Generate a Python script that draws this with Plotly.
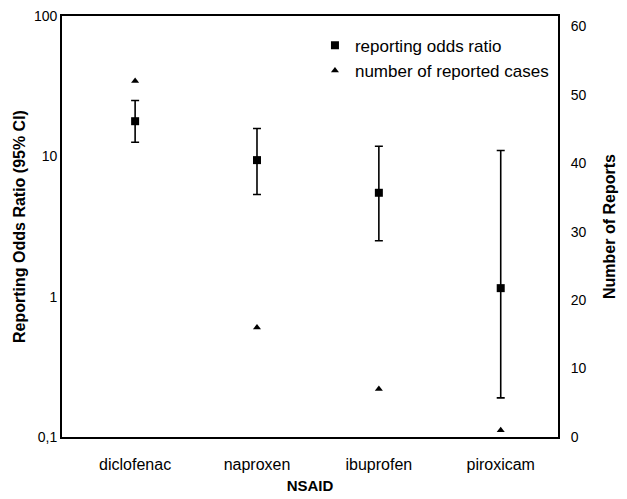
import plotly.graph_objects as go

nsaids = ["diclofenac", "naproxen", "ibuprofen", "piroxicam"]
ror = [17.8, 9.4, 5.5, 1.15]
ror_upper = [25.0, 15.8, 11.8, 11.0]
ror_lower = [12.6, 5.35, 2.5, 0.19]
reports = [52, 16, 7, 1]

left_ticks = [0.1, 1, 10, 100]
left_ticktext = ["0,1", "1", "10", "100"]
right_ticks = [0, 10, 20, 30, 40, 50, 60]

err_plus = [u - r for u, r in zip(ror_upper, ror)]
err_minus = [r - l for r, l in zip(ror, ror_lower)]

FAM = "Liberation Sans, Arial, Helvetica, sans-serif"
font = dict(family=FAM, size=14, color="black")

fig = go.Figure()
fig.add_trace(go.Scatter(
    x=nsaids, y=ror, mode="markers", name="reporting odds ratio",
    legendgroup="a",
    marker=dict(symbol="square", size=8, color="black"),
    error_y=dict(type="data", symmetric=False, array=err_plus, arrayminus=err_minus,
                 color="black", thickness=1.6, width=4),
    yaxis="y",
))
fig.add_trace(go.Scatter(
    x=nsaids, y=reports, mode="markers", name="number of reported cases",
    legendgroup="b",
    marker=dict(symbol="triangle-up", size=7, color="black"),
    yaxis="y2",
))

fig.update_layout(
    width=619, height=491,
    margin=dict(l=54, r=69, t=8, b=62, autoexpand=False),
    paper_bgcolor="white", plot_bgcolor="white",
    font=font,
    showlegend=True,
    legend=dict(x=0.51, y=0.972, xanchor="left", yanchor="top",
                bgcolor="rgba(0,0,0,0)", font=dict(size=17, family=FAM),
                tracegroupgap=0, itemwidth=30),
    xaxis=dict(type="category", range=[-0.6, 3.47], showgrid=False,
               showline=True, linecolor="black", linewidth=1.8, mirror=True,
               ticks="outside", ticklen=12, tickcolor="rgba(0,0,0,0)",
               tickfont=dict(size=16), automargin=False,
               title=dict(text="<b>NSAID</b>", font=dict(size=15), standoff=8)),
    yaxis=dict(type="log", range=[-1.0003, 2.0003], tickvals=left_ticks,
               ticktext=left_ticktext, ticklabeloverflow="allow",
               showgrid=False, zeroline=False, showline=True, linecolor="black",
               linewidth=1.8, ticks="", tickfont=dict(size=14), automargin=False,
               title=dict(text="<b>Reporting Odds Ratio (95% CI)</b>", font=dict(size=16),
                          standoff=4)),
    yaxis2=dict(overlaying="y", side="right", range=[0, 61.5], tickvals=right_ticks,
                showgrid=False, zeroline=False, showline=True, linecolor="black",
                linewidth=1.8, ticks="outside", ticklen=8, tickcolor="rgba(0,0,0,0)",
                tickfont=dict(size=14), automargin=False, ticklabeloverflow="allow",
                title=dict(text="<b>Number of Reports</b>", font=dict(size=16),
                           standoff=18)),
)

fig.write_html("out.html")
